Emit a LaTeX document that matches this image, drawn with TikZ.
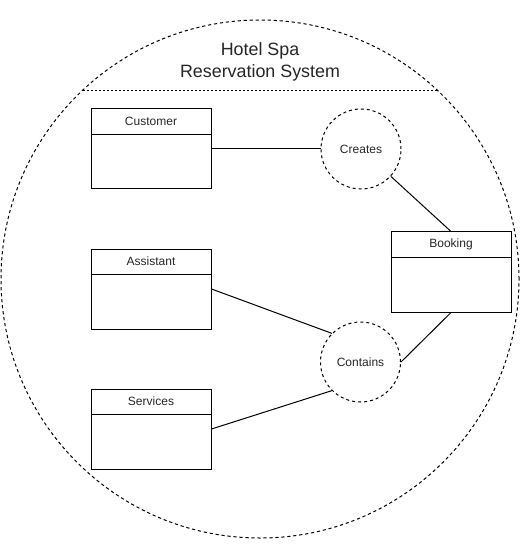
\documentclass[tikz,border=0pt]{standalone}
\usepackage{fontspec}
\setmainfont{Liberation Sans}
\usetikzlibrary{calc, positioning, shapes}

\newcommand{\classbox}[3]{%
    \node[classbox] (#1) at (#2) {};
    \draw[boxline] ([yshift=-19.5pt]#1.north west) -- ([yshift=-19.5pt]#1.north east);
    \node[boxlabel] (#1-label) at ([yshift=-9.75pt]#1.north) {#3};
}

\begin{document}
\begin{tikzpicture}[x=0.75pt, y=-0.75pt]

    \tikzset
    {
        boxline/.style={line width=0.75pt},
        classbox/.style={draw, boxline, rectangle, minimum width=90pt, minimum height=60pt, inner sep=0pt},
        boxlabel/.style={inner sep=0pt, text=black!85, font={\fontsize{9pt}{11pt}\selectfont}},
        action/.style={draw, circle, dashed, line width=0.75pt, dash pattern=on 2.25pt off 2.25pt, minimum size=60pt, inner sep=0pt, text=black!85, font={\fontsize{9pt}{11pt}\selectfont}},
        link/.style={line width=0.75pt}
    }

    \useasboundingbox (0,0) rectangle (521,559);

    % system boundary
    \node[circle, draw, line width=0.75pt, dash pattern=on 2.4pt off 2.1pt, minimum size=388.5pt, inner sep=0pt] (system) at (260,279) {};
    \node[align=center, text=black!85, font={\fontsize{13.4pt}{16.5pt}\selectfont}] (title) at (260,61.5) {Hotel Spa\\Reservation System};
    \coordinate (chordL) at (83,90);
    \coordinate (chordR) at (437,90);
    \draw[line width=0.6pt, dash pattern=on 1.5pt off 1.5pt] (chordL) -- (chordR);

    % classes
    \classbox{customer}{151,149}{Customer}
    \classbox{assistant}{151,289}{Assistant}
    \classbox{services}{151,429}{Services}
    \classbox{booking}{451,272}{Booking}

    % use cases
    \node[action] (creates) at (361,149) {Creates};
    \node[action] (contains) at (360.5,362) {Contains};

    \draw[link] (customer.east) -- (creates.west);
    \draw[link] (creates) -- (booking.north);
    \draw[link] (booking.south) -- (contains.east);
    \draw[link] (assistant.east) -- (contains.north west);
    \draw[link] (services.east) -- (contains.south west);

\end{tikzpicture}
\end{document}
